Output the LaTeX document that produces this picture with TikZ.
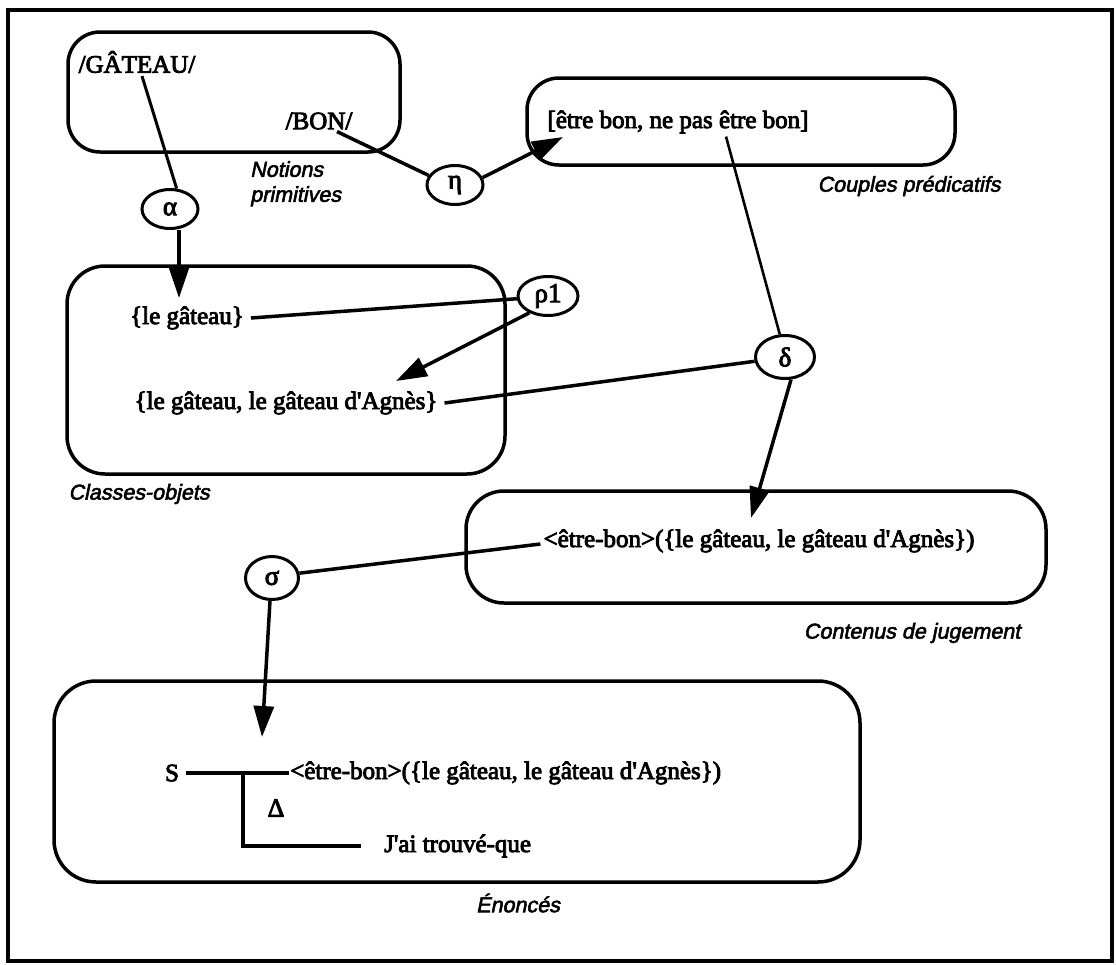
\documentclass[tikz,border=0pt]{standalone}
\usepackage{fontspec}
\setmainfont{Liberation Serif}[FakeBold=3.5]
\newfontfamily\labfont{Liberation Sans}[FakeBold=2.5, FakeSlant=0.2]
\usetikzlibrary{shapes.geometric,arrows.meta}
\begin{document}
\begin{tikzpicture}[x=1pt,y=-1pt,
  box/.style={draw, line width=3.5pt, rounded corners=32pt, inner sep=0pt},
  txt/.style={font=\fontsize{25}{27}\selectfont, inner sep=1pt},
  lab/.style={font=\labfont\fontsize{21.5}{25}\selectfont, inner sep=0pt},
  op/.style={draw, ellipse, line width=3pt, inner sep=0pt,
             minimum width=56pt, minimum height=39pt, font=\fontsize{27}{29}\selectfont},
  conn/.style={line width=3.5pt},
  arr/.style={line width=3.5pt, -{Triangle[length=31pt,width=20pt]}}]
\useasboundingbox (0,0) rectangle (1116,964);
% outer frame
\draw[line width=3.5pt] (8,10) rectangle (1112,961);

% containers
\node[box, minimum width=332pt, minimum height=120pt] (notions) at (234,92) {};
\node[box, minimum width=428pt, minimum height=87pt] (couples) at (741,121.5) {};
\node[box, minimum width=438pt, minimum height=208pt, rounded corners=38pt] (classes) at (286,370) {};
\node[box, minimum width=580pt, minimum height=112pt, rounded corners=38pt] (contenus) at (756,547) {};
\node[box, minimum width=806pt, minimum height=201pt, rounded corners=42pt] (enonces) at (457,781.5) {};

% contents
\node[txt] (gateau) at (137,62) {/GÂTEAU/};
\node[txt] (bon) at (319,121) {/BON/};
\node[lab, align=left, anchor=north west] (notionslab) at (250,161) {Notions\\primitives};
\node[txt] (etre) at (678,122) {[être bon, ne pas être bon]};
\node[lab] (coupleslab) at (909,186) {Couples prédicatifs};
\node[txt] (legateau) at (187,318) {\{le gâteau\}};
\node[txt] (legateaux) at (286,403) {\{le gâteau, le gâteau d\textquotesingle Agnès\}};
\node[lab] (classeslab) at (139,494) {Classes-objets};
\node[txt] (pred) at (759,541) {<être-bon>(\{le gâteau, le gâteau d\textquotesingle Agnès\})};
\node[lab] (contenuslab) at (912,633) {Contenus de jugement};
\node[txt] (S) at (172,773) {S};
\node[txt, anchor=west] (predb) at (289,773) {<être-bon>(\{le gâteau, le gâteau d\textquotesingle Agnès\})};
\node[txt, font=\fontsize{26}{28}\selectfont] (Delta) at (276,808) {Δ};
\node[txt, anchor=west] (jai) at (383,846) {J\textquotesingle ai trouvé-que};
\node[lab] (enonceslab) at (518,903) {Énoncés};

% operators
\node[op] (alpha) at (170,209) {α};
\node[op] (eta) at (455,185) {η};
\node[op, minimum width=60pt] (rho) at (548,296) {ρ1};
\node[op, minimum width=59pt, minimum height=43pt] (delta) at (785,357) {δ};
\node[op, minimum width=53pt, minimum height=43pt] (sigma) at (272,578) {σ};

% arrow tips
\coordinate (atip) at (179,298);
\coordinate (etip) at (563,137);
\coordinate (rtip) at (396,381);
\coordinate (dtip) at (751,518);
\coordinate (stip) at (262,737);
\coordinate (branch) at (243,773);
\coordinate (corner) at (243,846);

% connectors
\draw[line width=3pt] ([xshift=5pt,yshift=-2pt]gateau.south) -- (alpha.72);
\draw[arr] (alpha.south -| atip) -- (atip);
\draw[conn] ([xshift=18pt,yshift=-1pt]bon.south) -- (eta.160);
\draw[arr] (eta.15) -- (etip);
\draw[line width=2.6pt] ([xshift=48pt,yshift=-2pt]etre.south) -- (delta.103);
\draw[conn] ([xshift=6pt]legateau.east) -- (rho.185);
\draw[arr] (rho.222) -- (rtip);
\draw[conn] ([xshift=6pt]legateaux.east) -- (delta.188);
\draw[arr] (delta.-75) -- (dtip);
\draw[conn] (sigma.10) -- ([xshift=-2pt,yshift=-3pt]pred.west);
\draw[arr] (sigma.-95) -- (stip);
\draw[conn] ([xshift=6pt]S.east) -- (predb.west);
\draw[conn] (branch) -- (corner) -- ([xshift=-22pt]jai.west |- corner);
\end{tikzpicture}
\end{document}
